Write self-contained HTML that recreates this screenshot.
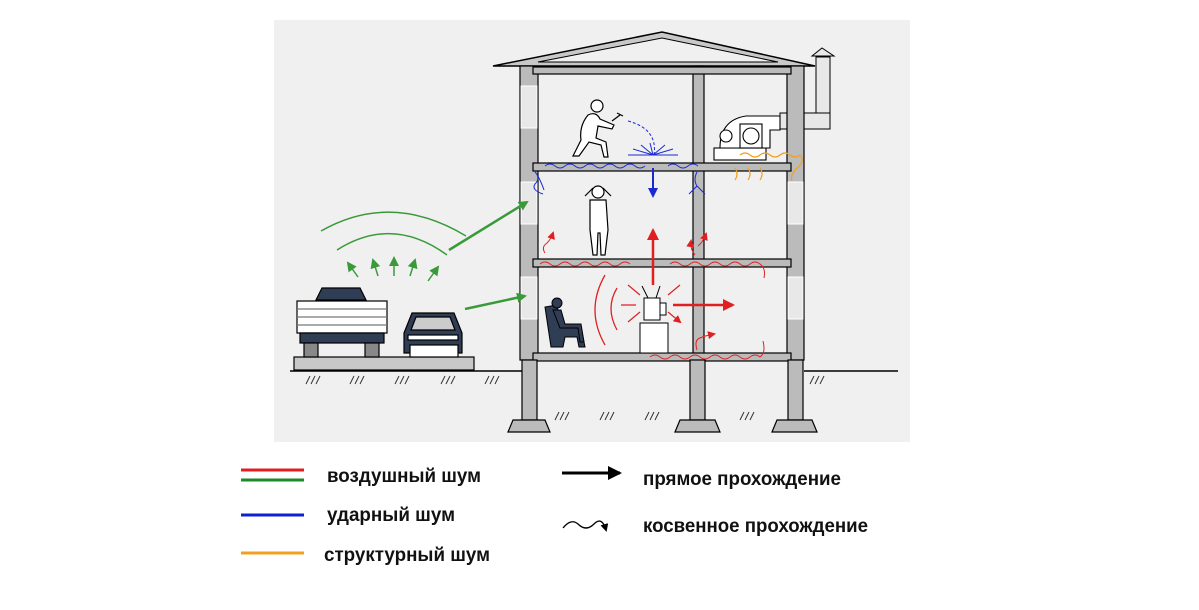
<!DOCTYPE html>
<html><head><meta charset="utf-8"><style>
html,body{margin:0;padding:0;background:#fff;width:1199px;height:610px;overflow:hidden}
svg{display:block}
text{font-family:"Liberation Sans Narrow","Liberation Sans",sans-serif;font-weight:bold;fill:#111}
</style></head><body>
<svg width="1199" height="610" viewBox="0 0 1199 610" xmlns="http://www.w3.org/2000/svg">
<defs>
<marker id="ag" markerUnits="userSpaceOnUse" markerWidth="10" markerHeight="10" refX="8" refY="5" orient="auto"><path d="M0,0L10,5L0,10z" fill="#3a9a3a"/></marker>
<marker id="ar" markerUnits="userSpaceOnUse" markerWidth="8" markerHeight="8" refX="6" refY="4" orient="auto"><path d="M0,0L8,4L0,8z" fill="#e02020"/></marker>
<marker id="arB" markerUnits="userSpaceOnUse" markerWidth="12" markerHeight="12" refX="10" refY="6" orient="auto"><path d="M0,0L12,6L0,12z" fill="#e02020"/></marker>
<marker id="ab" markerUnits="userSpaceOnUse" markerWidth="10" markerHeight="10" refX="8" refY="5" orient="auto"><path d="M0,0L10,5L0,10z" fill="#1a2ad0"/></marker>
<marker id="ak" markerUnits="userSpaceOnUse" markerWidth="14" markerHeight="14" refX="12" refY="7" orient="auto"><path d="M0,0L14,7L0,14z" fill="#000"/></marker>
<marker id="ak2" markerUnits="userSpaceOnUse" markerWidth="8" markerHeight="8" refX="6" refY="4" orient="auto"><path d="M0,0L8,4L0,8z" fill="#000"/></marker>
</defs>
<rect x="274" y="20" width="636" height="422" fill="#f0f0f0"/>
<line x1="290" y1="371" x2="522" y2="371" stroke="#000" stroke-width="1.5"/>
<line x1="804" y1="371" x2="898" y2="371" stroke="#000" stroke-width="1.5"/>
<g stroke="#333" stroke-width="1">
<path d="M306,384l4,-8M311,384l4,-8M316,384l4,-8M350,384l4,-8M355,384l4,-8M360,384l4,-8M395,384l4,-8M400,384l4,-8M405,384l4,-8M441,384l4,-8M446,384l4,-8M451,384l4,-8M485,384l4,-8M490,384l4,-8M495,384l4,-8"/>
<path d="M810,384l4,-8M815,384l4,-8M820,384l4,-8M555,420l4,-8M560,420l4,-8M565,420l4,-8M600,420l4,-8M605,420l4,-8M610,420l4,-8M645,420l4,-8M650,420l4,-8M655,420l4,-8M740,420l4,-8M745,420l4,-8M750,420l4,-8"/>
</g>
<polygon points="493,66 662,32 815,66" fill="#c8c8c8" stroke="#000" stroke-width="1.5"/>
<polygon points="538,62 662,38 778,62" fill="#f0f0f0" stroke="#000" stroke-width="1"/>
<rect x="816" y="57" width="14" height="72" fill="#e8e8e8" stroke="#000"/>
<polygon points="812,56 822,48 834,56" fill="#e8e8e8" stroke="#000"/>
<rect x="780" y="113" width="50" height="16" fill="#e8e8e8" stroke="#000"/>
<g fill="#bbb" stroke="#000" stroke-width="1.2">
<rect x="520" y="66" width="18" height="294"/>
<rect x="787" y="66" width="17" height="294"/>
<rect x="693" y="66" width="11" height="294"/>
<rect x="533" y="67" width="258" height="7"/>
<rect x="533" y="163" width="258" height="8"/>
<rect x="533" y="259" width="258" height="8"/>
<rect x="533" y="353" width="258" height="8"/>
<rect x="522" y="360" width="15" height="60"/>
<rect x="690" y="360" width="15" height="60"/>
<rect x="788" y="360" width="15" height="60"/>
<path d="M508,432l5,-12h32l5,12z M675,432l5,-12h35l5,12z M772,432l5,-12h35l5,12z"/>
</g>
<g fill="#e8e8e8" stroke="#fff" stroke-width="1">
<rect x="521" y="86" width="16" height="42"/><rect x="521" y="182" width="16" height="42"/><rect x="521" y="277" width="16" height="42"/>
<rect x="788" y="182" width="15" height="42"/><rect x="788" y="277" width="15" height="42"/>
</g>
<g stroke="#000" stroke-width="1.2" fill="#fff">
<circle cx="597" cy="106" r="6"/>
<path d="M588,115 q8,-4 12,4 l14,6 l-2,4 l-14,-3 l-2,12 l10,4 l2,15 h-4 l-3,-12 l-12,-3 l-10,14 h-6 l8,-16 q-2,-14 7,-25z"/>
<path d="M612,121l8,-6M617,113l6,3"/>
</g>
<path d="M628,121 q30,8 26,34" stroke="#1a2ad0" stroke-dasharray="3,2" fill="none"/>
<g stroke="#1a2ad0" stroke-width="1"><path d="M653,155l-20,-6M653,155l-12,-10M653,155l20,-6M653,155l12,-10M653,155l-3,-12M653,155l25,0M653,155l-25,0"/></g>
<g stroke="#000" fill="#fff" stroke-width="1.1">
<rect x="714" y="148" width="52" height="12"/>
<path d="M720,148 q0,-28 26,-32 h34 v14 h-10 v18z"/>
<circle cx="726" cy="136" r="6"/><rect x="740" y="124" width="22" height="24"/><circle cx="751" cy="136" r="8"/>
</g>
<g stroke="#000" stroke-width="1.2" fill="#fff">
<circle cx="598" cy="192" r="6"/>
<path d="M585,196 l8,-8 M611,196 l-8,-8"/>
<path d="M590,200 h16 l2,30 l-3,25 h-4 l-1,-22 h-2 l-1,22 h-4 l-3,-25z"/>
</g>
<g stroke="#000" fill="#2f3d55">
<path d="M545,307 l6,40 h12 l2,-10 h12 l2,10 h6 l-4,-20 h-20 l-4,-22z"/>
<circle cx="557" cy="303" r="5"/>
<path d="M553,310 h8 l4,14 h16 l3,18 h-4 l-2,-14 h-18z"/>
</g>
<g stroke="#000" fill="#fff">
<rect x="640" y="323" width="28" height="30"/>
<rect x="644" y="298" width="16" height="22"/><rect x="660" y="303" width="6" height="12"/>
<path d="M648,298 l-6,-12 M656,298 l4,-12" fill="none"/>
</g>
<g stroke="#e02020" stroke-width="1.2" fill="none" marker-end="url(#ar)">
<path d="M636,305h-15M640,295l-12,-10M640,312l-12,10M668,295l12,-10M668,312l12,10"/>
</g>
<path d="M673,305h60" stroke="#e02020" stroke-width="2.5" marker-end="url(#arB)"/>
<path d="M653,285v-55" stroke="#e02020" stroke-width="2.5" marker-end="url(#arB)"/>
<path d="M605,275 q-20,35 0,70 M617,288 q-12,20 0,42" stroke="#e02020" stroke-width="1.3" fill="none"/>
<g stroke="#e02020" stroke-width="1" fill="none">
<path d="M540,264 q5,-4 10,0 t10,0 t10,0 t10,0 t10,0 t10,0 t10,0 t10,0 t10,0"/>
<path d="M670,264 q5,-4 10,0 t10,0 t10,0 t10,0 t10,0 t10,0 t10,0 t10,0 t10,0 q6,4 4,14"/>
<path d="M650,357 q5,-4 10,0 t10,0 t10,0 t10,0 t10,0 t10,0 t10,0 t10,0 t10,0 t10,0 t10,0 q6,-4 3,-16"/>
<path d="M545,253 q-4,-6 2,-10 q4,-4 6,-10" marker-end="url(#ar)"/>
<path d="M695,255 q-5,-6 -4,-14" marker-end="url(#ar)"/>
<path d="M698,246 q5,-4 8,-12" marker-end="url(#ar)"/>
<path d="M697,350 q-3,-10 3,-12 q4,-2 14,-4" marker-end="url(#ar)"/>
</g>
<path d="M653,168v28" stroke="#1a2ad0" stroke-width="2" marker-end="url(#ab)"/>
<g stroke="#1a2ad0" stroke-width="1" fill="none">
<path d="M545,166 q5,-4 10,0 t10,0 t10,0 t10,0 t10,0 t10,0 t10,0 t10,0 t10,0 t10,0"/>
<path d="M668,166 q5,-4 10,0 t10,0 t10,0"/>
<path d="M535,172 q6,6 0,12 q-4,6 8,10"/><path d="M538,176 q4,8 6,14"/>
<path d="M697,172 q-4,8 0,14 l-8,8 M697,186 l8,8"/>
</g>
<g stroke="#f0a020" stroke-width="1.2" fill="none">
<path d="M740,155 q5,-4 10,0 t10,0 t10,0 t10,0 t10,0 t10,0 q6,6 -4,14 q-6,6 -4,12"/>
<path d="M735,168 q4,6 0,12"/><path d="M748,168 q4,6 0,12"/><path d="M760,168 q4,6 0,12"/>
</g>
<g stroke="#000" stroke-width="1.2">
<rect x="294" y="357" width="180" height="13" fill="#c8c8c8"/>
<path d="M316,300 l6,-12 h38 l6,12z" fill="#2f3d55"/>
<rect x="297" y="301" width="90" height="32" fill="#fff"/>
<path d="M297,309h90M297,317h90M297,325h90" stroke="#777"/>
<rect x="300" y="333" width="84" height="10" fill="#2f3d55"/>
<rect x="304" y="343" width="14" height="14" fill="#888"/><rect x="365" y="343" width="14" height="14" fill="#888"/>
<path d="M404,333 l8,-20 h42 l8,20 v20 h-58z" fill="#2f3d55"/>
<path d="M411,330 l5,-13 h34 l5,13z" fill="#ccc"/>
<rect x="408" y="335" width="50" height="5" fill="#fff"/>
<rect x="410" y="345" width="48" height="12" fill="#fff"/>
</g>
<g stroke="#3a9a3a" stroke-width="1.5" fill="none">
<path d="M321,231 q70,-40 145,5"/><path d="M337,250 q55,-35 110,5"/>
<path d="M358,277l-10,-14" marker-end="url(#ag)"/><path d="M378,276l-5,-16" marker-end="url(#ag)"/>
<path d="M394,276v-18" marker-end="url(#ag)"/><path d="M410,276l5,-16" marker-end="url(#ag)"/>
<path d="M428,281l10,-14" marker-end="url(#ag)"/>
</g>
<path d="M449,250 L527,202" stroke="#3a9a3a" stroke-width="2.5" marker-end="url(#ag)"/>
<path d="M465,309 L525,296" stroke="#3a9a3a" stroke-width="2.5" marker-end="url(#ag)"/>
<line x1="241" y1="470" x2="304" y2="470" stroke="#e02020" stroke-width="3"/>
<line x1="241" y1="480" x2="304" y2="480" stroke="#1a8a2a" stroke-width="3"/>
<line x1="241" y1="515" x2="304" y2="515" stroke="#1020d0" stroke-width="3"/>
<line x1="241" y1="553" x2="304" y2="553" stroke="#f0a020" stroke-width="3"/>
<text x="327" y="482" font-size="19" textLength="154" lengthAdjust="spacingAndGlyphs">воздушный шум</text>
<text x="327" y="521" font-size="19" textLength="128" lengthAdjust="spacingAndGlyphs">ударный шум</text>
<text x="324" y="561" font-size="19" textLength="166" lengthAdjust="spacingAndGlyphs">структурный шум</text>
<path d="M562,473 h58" stroke="#000" stroke-width="3" marker-end="url(#ak)"/>
<path d="M563,528 q8,-10 15,-4 q8,8 16,0 q8,-8 12,6" stroke="#000" stroke-width="1.3" fill="none" marker-end="url(#ak2)"/>
<text x="643" y="485" font-size="19" textLength="198" lengthAdjust="spacingAndGlyphs">прямое прохождение</text>
<text x="643" y="532" font-size="19" textLength="225" lengthAdjust="spacingAndGlyphs">косвенное прохождение</text>
</svg>
</body></html>
